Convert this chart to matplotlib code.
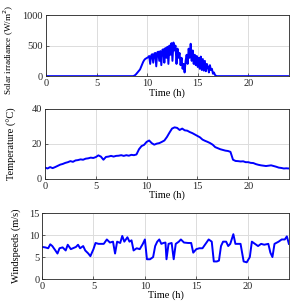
"""
Daily profiles of solar irradiance, temperature and wind speed
"""

import matplotlib
matplotlib.use("Agg")
import matplotlib.pyplot as plt
import numpy as np

plt.rcParams["font.family"] = ["Liberation Serif", "DejaVu Serif"]
plt.rcParams["font.size"] = 7.5

# ------------------------------- Data -------------------------------------- #
# Solar irradiance (W/m^2): zero at night, 0.1 h samples between 8.5 h and 17 h
solar_t = np.concatenate(([0.0], np.round(np.arange(8.5, 17.05, 0.1), 2), [24.0]))
solar_day = [
    0, 0, 5, 15, 30,                                     # 8.5 - 8.9
    50, 70, 90, 110, 150, 190, 230, 260, 280, 290,       # 9.0 - 9.9
    300, 310, 330, 200, 340, 360, 220, 370, 380, 160,    # 10.0 - 10.9
    390, 400, 250, 410, 180, 430, 440, 220, 460, 300,    # 11.0 - 11.9
    480, 200, 500, 350, 540, 250, 550, 420, 500, 200,    # 12.0 - 12.9
    450, 300, 380, 180, 300, 120, 200, 60, 250, 350,     # 13.0 - 13.9
    200, 450, 300, 530, 250, 420, 200, 350, 180, 330,    # 14.0 - 14.9
    150, 300, 120, 320, 100, 280, 90, 250, 80, 200,      # 15.0 - 15.9
    150, 60, 180, 100, 120, 40, 60, 20, 5, 0,            # 16.0 - 16.9
    0,                                                   # 17.0
]
solar_w = [0] + solar_day + [0]

# Temperature (deg C), 0.25 h samples
temp_t = np.arange(0, 24.01, 0.25)
temp_c = [
    6.5, 6.0, 6.8, 6.2, 6.8, 7.5, 8.2, 8.6,           # 0 - 1.75
    9.2, 9.6, 10.2, 9.8, 10.6, 10.8, 11.2, 11.0,      # 2 - 3.75
    11.6, 11.8, 12.2, 12.0, 12.5, 13.5, 12.8, 11.0,   # 4 - 5.75
    12.6, 12.8, 13.2, 12.8, 13.2, 13.3, 13.6, 13.2,   # 6 - 7.75
    13.6, 13.3, 13.8, 13.6, 14.0, 17.0, 18.8, 19.5,   # 8 - 9.75
    21.2, 22.0, 20.5, 19.6, 20.2, 20.5, 21.2, 22.0,   # 10 - 11.75
    24.0, 26.5, 28.8, 29.5, 29.2, 28.0, 28.8, 27.8,   # 12 - 13.75
    27.6, 26.8, 26.2, 25.4, 24.6, 23.8, 22.5, 21.8,   # 14 - 15.75
    21.2, 20.5, 19.6, 18.2, 17.6, 17.0, 16.6, 16.2,   # 16 - 17.75
    16.0, 15.5, 11.0, 10.3, 10.2, 10.0, 10.1, 9.6,    # 18 - 19.75
    9.6, 9.2, 9.1, 8.5, 8.1, 7.8, 7.6, 7.4,           # 20 - 21.75
    7.6, 7.8, 7.4, 7.0, 6.5, 6.3, 6.0, 6.1,           # 22 - 23.75
    6.0,                                              # 24
]

# Wind speed (m/s)
wind_t = [
    0.0, 0.3, 0.6, 0.8, 1.0, 1.3, 1.5, 1.7, 2.0, 2.3, 2.5, 2.8, 3.0, 3.3,
    3.5, 3.7, 4.0, 4.2, 4.5, 4.7, 5.0, 5.2, 5.5, 6.0, 6.3, 6.6, 6.9, 7.1,
    7.3, 7.6, 7.8, 8.0, 8.3, 8.5, 8.7, 8.9, 9.2, 9.5, 9.8, 10.0, 10.2, 10.5,
    10.8, 11.0, 11.2, 11.4, 11.6, 11.8, 12.0, 12.1, 12.3, 12.6, 12.8, 13.0,
    13.3, 13.5, 13.8, 14.2, 14.5, 14.7, 15.0, 15.3, 15.6, 15.9, 16.2, 16.5,
    16.7, 17.0, 17.2, 17.4, 17.6, 17.9, 18.1, 18.3, 18.6, 18.8, 19.0, 19.3,
    19.6, 19.9, 20.2, 20.4, 20.7, 21.0, 21.3, 21.6, 22.0, 22.2, 22.4, 22.6,
    23.0, 23.3, 23.6, 23.8, 24.0,
]
wind_ms = [
    7.3, 7.2, 7.0, 7.9, 7.5, 6.5, 5.8, 7.0, 7.2, 6.5, 7.8, 6.8, 7.0, 7.3,
    7.8, 7.0, 7.5, 6.5, 5.8, 5.2, 6.8, 8.2, 8.0, 8.0, 9.0, 8.3, 8.5, 5.8,
    8.5, 8.2, 9.8, 8.5, 9.5, 8.5, 8.8, 6.5, 7.0, 6.8, 8.0, 9.0, 4.5, 4.5,
    5.0, 7.5, 8.5, 9.0, 8.0, 8.2, 8.3, 4.5, 8.0, 8.2, 4.5, 8.0,
    8.5, 9.0, 8.3, 8.2, 8.2, 6.0, 6.8, 7.0, 7.0, 8.0, 9.0, 8.5,
    4.0, 4.0, 4.2, 7.5, 8.5, 8.5, 7.5, 8.0, 10.2, 8.0, 8.0, 8.0,
    4.0, 3.8, 5.0, 8.5, 8.0, 7.5, 8.0, 7.8, 8.0, 6.0, 5.0, 8.0,
    8.5, 9.0, 9.0, 9.7, 8.0,
]
# --------------------------------------------------------------------------- #

fig = plt.figure(figsize=(2.96, 3.07), dpi=100)

panels = [
    ([0.155, 0.752, 0.821, 0.199], solar_t, solar_w, "Solar irradiance (W/m$^2$)", (0, 1000), [0, 500, 1000], 6.6, -0.123, 0.44),
    ([0.152, 0.417, 0.824, 0.228], temp_t, temp_c, "Temperature (°C)", (0, 40), [0, 20, 40], 7.5, -0.115, 0.5),
    ([0.142, 0.091, 0.834, 0.215], wind_t, wind_ms, "Windspeeds (m/s)", (0, 15), [0, 5, 10, 15], 7.5, -0.085, 0.5),
]

for rect, t, y, ylabel, ylim, yticks, lab_size, lab_x, lab_y in panels:
    ax = fig.add_axes(rect)
    ax.plot(t, y, color="#0000ff", linewidth=1.4)
    ax.set_xlim(0, 24)
    ax.set_ylim(*ylim)
    ax.set_xticks([0, 5, 10, 15, 20])
    ax.set_yticks(yticks)
    ax.grid(True, color="#dcdcdc", linewidth=0.7)
    ax.set_axisbelow(True)
    ax.tick_params(direction="in", length=2, width=0.5, pad=2, colors="#262626")
    for s in ax.spines.values():
        s.set_linewidth(0.6)
        s.set_color("#262626")
    ax.set_xlabel("Time (h)", labelpad=0)
    ax.set_ylabel(ylabel, fontsize=lab_size)
    ax.yaxis.set_label_coords(lab_x, lab_y)

plt.savefig("out.png", dpi=100)
